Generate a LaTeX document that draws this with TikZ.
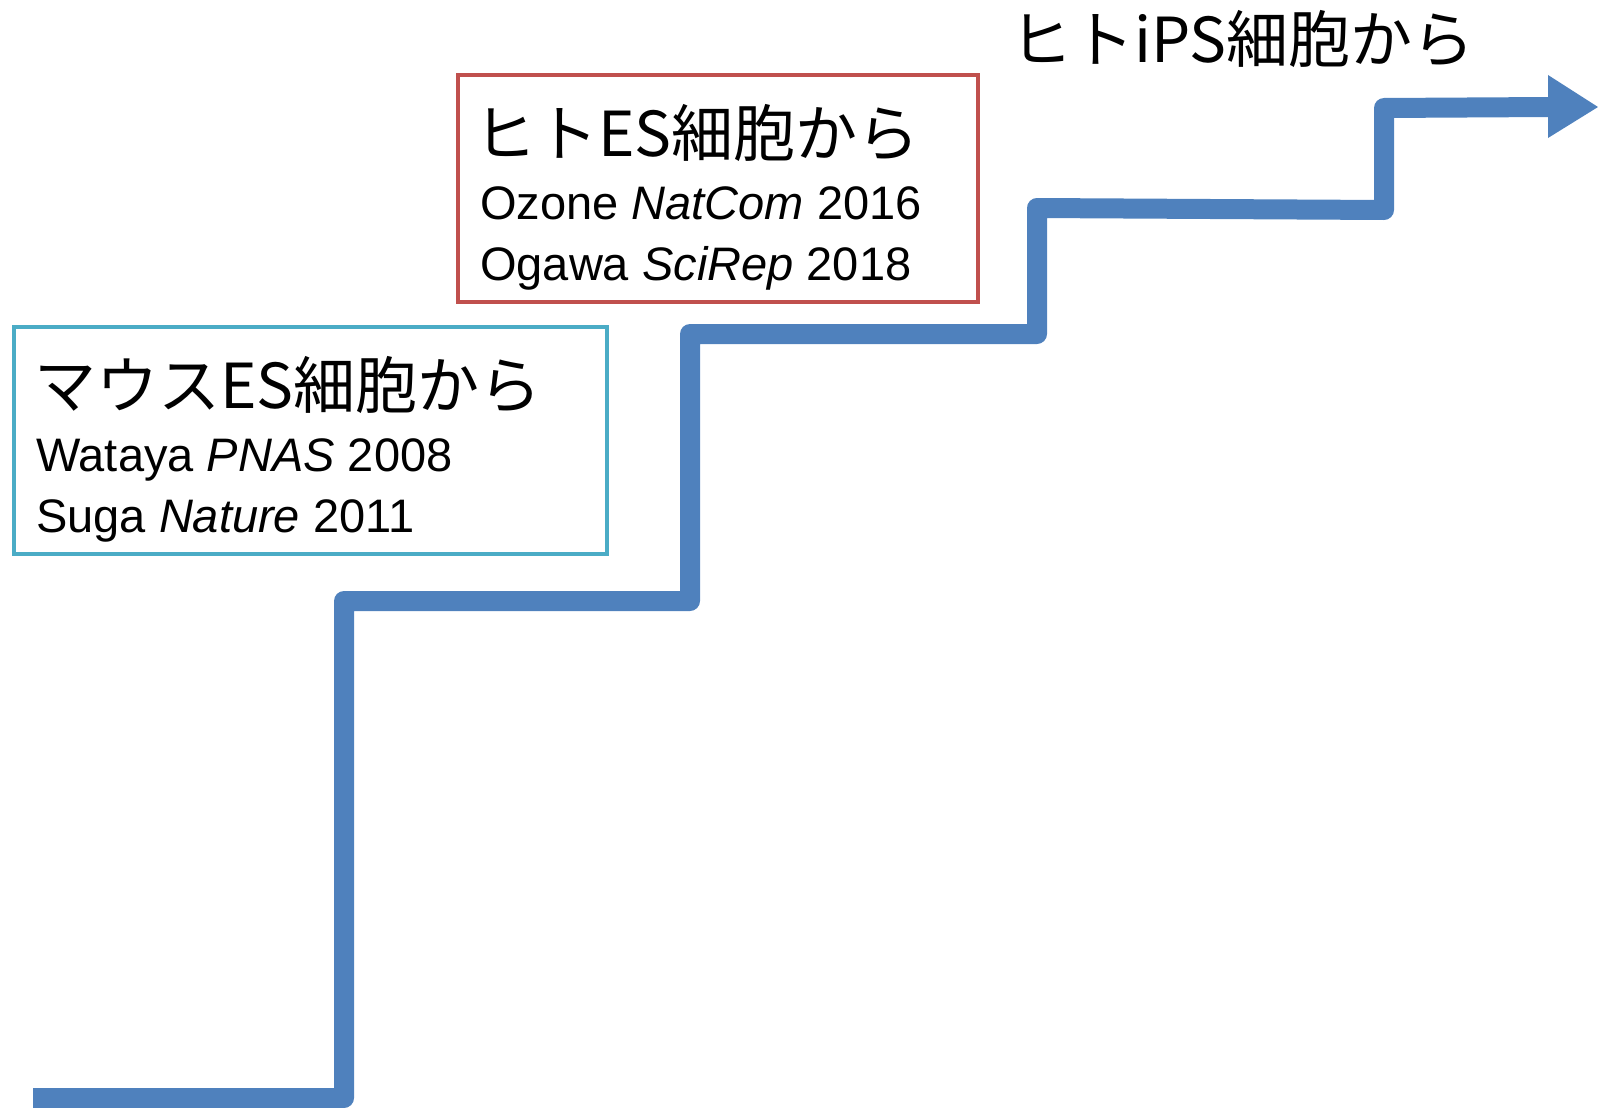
\documentclass[tikz,border=0pt]{standalone}
\usepackage{fontspec}
\setmainfont{Liberation Sans}
\newfontfamily\jp{Noto Sans CJK JP}
\definecolor{stepblue}{HTML}{4F81BD}
\definecolor{boxcyan}{HTML}{4BACC6}
\definecolor{boxred}{HTML}{C0504D}
\begin{document}
\begin{tikzpicture}[x=1pt,y=-1pt,
  head/.style={anchor=base west,inner sep=0pt,font=\jp\fontsize{62}{62}\selectfont},
  ref/.style={anchor=base west,inner sep=0pt,font=\fontsize{47}{47}\selectfont},
  frame/.style={line width=4pt}]
\useasboundingbox (0,0) rectangle (1598,1108);
% boxes
\draw[frame,boxcyan] (14,327) rectangle (607,554);
\draw[frame,boxred] (458,75) rectangle (978,302);
% staircase arrow
\coordinate (s0) at (33,1098);
\coordinate (s1) at (344,1098);
\coordinate (s2) at (344,601);
\coordinate (s3) at (690,601);
\coordinate (s4) at (690,334);
\coordinate (s5) at (1037,334);
\coordinate (s6) at (1037,208);
\coordinate (s7) at (1384,210);
\coordinate (s8) at (1384,108);
\coordinate (s9) at (1550,107);
\coordinate (tip) at (1598,107);
\draw[stepblue,line width=20pt,line join=round]
  (s0) -- (s1) -- (s2) -- (s3) -- (s4) -- (s5) -- (s6) -- (s7) -- (s8) -- (s9);
\fill[stepblue] (1548,75) -- (tip) -- (1548,138) -- cycle;
% texts
\node[head] (h1) at (34,408) {マウスES細胞から};
\node[ref] (r11) at (36,471) {Wataya \textit{PNAS} 2008};
\node[ref] (r12) at (36,532) {Suga \textit{Nature} 2011};
\node[head] (h2) at (474,156) {ヒトES細胞から};
\node[ref] (r21) at (480,219) {Ozone \textit{NatCom} 2016};
\node[ref] (r22) at (480,280) {Ogawa \textit{SciRep} 2018};
\node[head] (h3) at (1010,63) {ヒトiPS細胞から};
\end{tikzpicture}
\end{document}
